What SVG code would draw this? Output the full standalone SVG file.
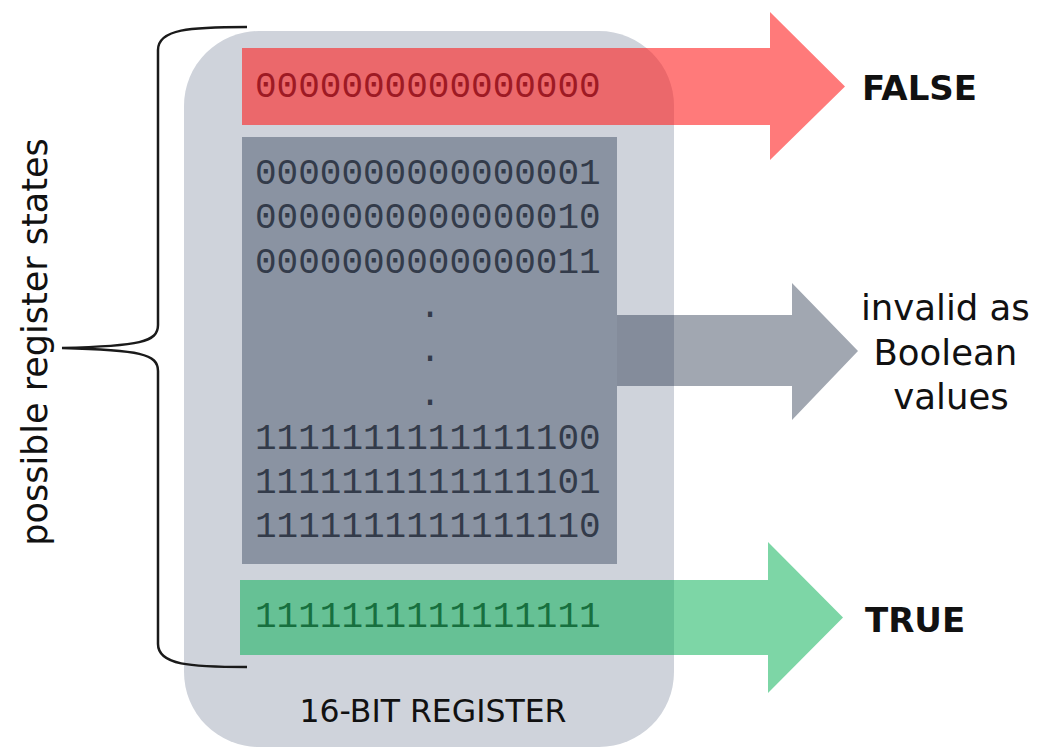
<svg xmlns="http://www.w3.org/2000/svg" width="1041" height="749" viewBox="0 0 1041 749">
  <style>
    .bits { font-family: "Liberation Mono", "DejaVu Sans Mono", monospace; font-size: 36px; }
    .grey-bits { fill: #333b4a; }
    .label { font-family: "DejaVu Sans", "Noto Sans", sans-serif; fill: #111; }
    .bold { font-weight: bold; font-size: 34px; }
  </style>
  <rect width="1041" height="749" fill="#ffffff"/>

  <!-- register body -->
  <g id="register">
    <rect x="184" y="31" width="490" height="716" rx="75" ry="75" fill="#cfd3db"/>
    <text class="label" x="433" y="722" font-size="31.5" text-anchor="middle">16-BIT REGISTER</text>
  </g>

  <!-- block of states that are neither all zeros nor all ones -->
  <g id="invalid-states">
    <rect x="242" y="137" width="375" height="427" fill="#8a93a2"/>
    <g class="bits grey-bits">
      <text x="255" y="184">0000000000000001</text>
      <text x="255" y="228">0000000000000010</text>
      <text x="255" y="273">0000000000000011</text>
      <text x="430" y="317" text-anchor="middle">.</text>
      <text x="430" y="361" text-anchor="middle">.</text>
      <text x="430" y="405" text-anchor="middle">.</text>
      <text x="255" y="449">1111111111111100</text>
      <text x="255" y="493">1111111111111101</text>
      <text x="255" y="537">1111111111111110</text>
    </g>
  </g>

  <!-- arrows mapping register states to their meaning -->
  <g id="connectors">
    <polygon points="242,48 770,48 770,12 845,86.5 770,160 770,125 242,125" fill="#ff1a1a" fill-opacity="0.58"/>
    <polygon points="617,315 792,315 792,283 858,351 792,420 792,386 617,386" fill="#14233d" fill-opacity="0.4"/>
    <polygon points="240,580 768,580 768,542 843,617.5 768,693 768,655 240,655" fill="#06b155" fill-opacity="0.52"/>
  </g>

  <g id="false-state">
    <text class="bits" x="255" y="97" fill="#9e1a24">0000000000000000</text>
    <text class="label bold" x="862" y="100">FALSE</text>
  </g>

  <g id="true-state">
    <text class="bits" x="255" y="627" fill="#17703f">1111111111111111</text>
    <text class="label bold" x="865" y="632">TRUE</text>
  </g>

  <g id="invalid-label">
    <text class="label" font-size="35.5" text-anchor="middle">
      <tspan x="951" y="320">invalid as</tspan>
      <tspan x="951" y="365">Boolean</tspan>
      <tspan x="951" y="409">values</tspan>
    </text>
  </g>

  <!-- brace spanning every possible state -->
  <g id="states-brace">
    <path d="M247,27 C190,27 158,29 158,50 L158,325 C158,342 140,346 62,348 C140,350 158,354 158,371 L158,644 C158,665 190,667 247,667" fill="none" stroke="#1a1a1a" stroke-width="2.5"/>
    <text class="label" font-size="35" text-anchor="middle" transform="translate(47,342) rotate(-90)">possible register states</text>
  </g>
</svg>
